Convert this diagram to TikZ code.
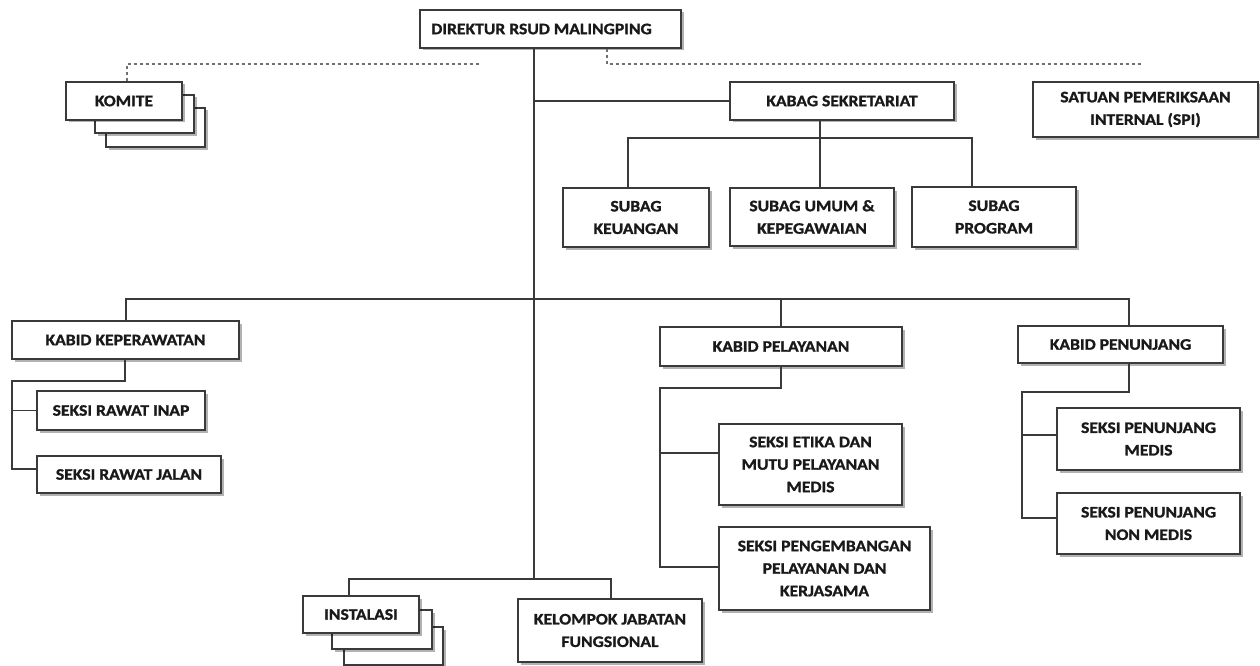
\documentclass[tikz,border=0pt]{standalone}
\usepackage{fontspec}
\setmainfont{Carlito}[FakeStretch=1.1, BoldFeatures={FakeBold=1.2}]
\usetikzlibrary{shadows}
\definecolor{ln}{HTML}{3A3A3A}
\definecolor{dl}{HTML}{707070}
\begin{document}
\begin{tikzpicture}[x=1pt,y=-1pt,
  box/.style={draw=ln, line width=1.2pt, fill=white, inner sep=0pt, align=center,
    font=\bfseries\fontsize{16}{22.5}\selectfont, text=black!90,
    drop shadow={shadow xshift=2.5pt,shadow yshift=-2.5pt,opacity=0.3,fill=black}},
  conn/.style={draw=ln, line width=1.2pt},
  dashline/.style={draw=dl, line width=1.2pt, dash pattern=on 3pt off 3pt}]
\useasboundingbox (0,0) rectangle (1260,666);
\fill[white] (0,0) rectangle (1260,666);

% boxes
\node[box, minimum width=261pt, minimum height=38pt] (dir) at (550.5,29) {DIREKTUR RSUD MALINGPING\rule{18pt}{0pt}};

\node[box, minimum width=99pt, minimum height=39pt] (kom3) at (155.5,127.5) {};
\node[box, minimum width=99pt, minimum height=38pt] (kom2) at (144.5,114) {};
\node[box, minimum width=116pt, minimum height=38pt] (kom) at (124,101) {KOMITE};

\node[box, minimum width=224pt, minimum height=38pt] (kabag) at (842,101) {KABAG SEKRETARIAT};
\node[box, minimum width=225pt, minimum height=55pt] (spi) at (1145.5,109.5) {SATUAN PEMERIKSAAN\\INTERNAL (SPI)};

\node[box, minimum width=146pt, minimum height=59pt] (keu) at (636,217.5) {SUBAG\\KEUANGAN};
\node[box, minimum width=164pt, minimum height=58pt] (umum) at (812,217) {SUBAG UMUM \&\\KEPEGAWAIAN};
\node[box, minimum width=164pt, minimum height=60pt] (prog) at (994,217) {SUBAG\\PROGRAM};

\node[box, minimum width=227pt, minimum height=38pt] (kep) at (125.5,340) {KABID KEPERAWATAN};
\node[box, minimum width=168pt, minimum height=39pt] (inap) at (121,410.5) {SEKSI RAWAT INAP};
\node[box, minimum width=184pt, minimum height=37pt] (jalan) at (129,474.5) {SEKSI RAWAT JALAN};

\node[box, minimum width=242pt, minimum height=39pt] (pel) at (781,346.5) {KABID PELAYANAN};
\node[box, minimum width=183pt, minimum height=81pt] (etika) at (810.5,464.5) {SEKSI ETIKA DAN\\MUTU PELAYANAN\\MEDIS};
\node[box, minimum width=211pt, minimum height=83pt] (peng) at (824.5,568.5) {SEKSI PENGEMBANGAN\\PELAYANAN DAN\\KERJASAMA};

\node[box, minimum width=205pt, minimum height=37pt] (pen) at (1120.5,344.5) {KABID PENUNJANG};
\node[box, minimum width=183pt, minimum height=62pt] (pmed) at (1148.5,439) {SEKSI PENUNJANG\\MEDIS};
\node[box, minimum width=183pt, minimum height=61pt] (pnon) at (1148.5,523.5) {SEKSI PENUNJANG\\NON MEDIS};

\node[box, minimum width=99pt, minimum height=38pt] (inst3) at (393.5,646) {};
\node[box, minimum width=100pt, minimum height=39pt] (inst2) at (382,629.5) {};
\node[box, minimum width=116pt, minimum height=37pt] (inst) at (361,614.5) {INSTALASI};
\node[box, minimum width=184pt, minimum height=63pt] (kel) at (610,630.5) {KELOMPOK JABATAN\\FUNGSIONAL};

% coordinates
\coordinate (sp) at (534,579);
\coordinate (hL) at (126,299);
\coordinate (hR) at (1129,299);
\coordinate (kb) at (820,138);
\coordinate (k1) at (628,138);
\coordinate (k3) at (972,138);
\coordinate (a1) at (125,381);
\coordinate (a2) at (12,381);
\coordinate (a3) at (12,469);
\coordinate (b1) at (781,388);
\coordinate (b2) at (660,388);
\coordinate (b3) at (660,567);
\coordinate (b4) at (660,453);
\coordinate (c1) at (1129,392);
\coordinate (c2) at (1022,392);
\coordinate (c3) at (1022,518);
\coordinate (c4) at (1022,435);
\coordinate (d1) at (349,579);
\coordinate (d2) at (611,579);
\coordinate (e1) at (127,64);
\coordinate (e2) at (480,64);
\coordinate (f1) at (607,64);
\coordinate (f2) at (1143,64);

% connectors
\draw[conn] (dir.south -| sp) -- (sp);
\draw[conn] (kabag.west -| sp) -- (kabag.west);
\draw[conn] (kabag.south -| kb) -- (umum.north -| kb);
\draw[conn] (keu.north -| k1) -- (k1) -- (k3) -- (prog.north -| k3);
\draw[conn] (kep.north -| hL) -- (hL) -- (hR) -- (pen.north -| hR);
\draw[conn] (pel.north) -- (pel.north |- hL);
\draw[conn] (kep.south -| a1) -- (a1) -- (a2) -- (a3) -- (a3 -| jalan.west);
\draw[conn] (inap.west -| a2) -- (inap.west);
\draw[conn] (pel.south) -- (b1) -- (b2) -- (b3) -- (b3 -| peng.west);
\draw[conn] (b4) -- (b4 -| etika.west);
\draw[conn] (pen.south -| c1) -- (c1) -- (c2) -- (c3) -- (c3 -| pnon.west);
\draw[conn] (c4) -- (c4 -| pmed.west);
\draw[conn] (inst.north -| d1) -- (d1) -- (d2) -- (kel.north -| d2);
\draw[dashline] (kom.north -| e1) -- (e1) -- (e2);
\draw[dashline] (dir.south -| f1) -- (f1) -- (f2);
\end{tikzpicture}
\end{document}
